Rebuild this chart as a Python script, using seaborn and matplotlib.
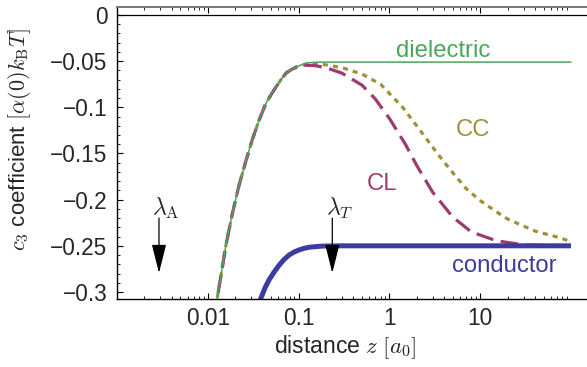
import numpy as np
import matplotlib
matplotlib.use("Agg")
import matplotlib.pyplot as plt
import seaborn as sns
from matplotlib.ticker import LogLocator, NullFormatter, MultipleLocator

# rising part shared by dielectric, CC and CL
rise_z = [0.0118, 0.0127, 0.0158, 0.0184, 0.022, 0.0263, 0.0309, 0.0367, 0.0437, 0.05,
          0.0563, 0.0645, 0.0727, 0.083, 0.095]
rise_c = [-0.328, -0.307, -0.25, -0.2175, -0.185, -0.158, -0.135, -0.114, -0.0955, -0.086,
          -0.078, -0.0695, -0.063, -0.0592, -0.0563]

diel_z = rise_z + [0.108, 0.121, 0.145, 0.17, 0.25, 100]
diel_c = rise_c + [-0.0538, -0.052, -0.0513, -0.051, -0.051, -0.051]

cc_z = rise_z + [0.12, 0.15, 0.2, 0.3, 0.5, 0.8, 1.4, 2.3, 3.5, 5, 7, 10, 14, 20, 40, 80, 100]
cc_c = rise_c + [-0.0535, -0.0528, -0.054, -0.057, -0.064, -0.075, -0.1, -0.128, -0.152,
                 -0.171, -0.188, -0.201, -0.211, -0.221, -0.234, -0.242, -0.246]

cl_z = rise_z + [0.12, 0.15, 0.2, 0.3, 0.5, 0.7, 1.0, 1.5, 2.0, 3.0, 5.0, 8, 15, 30, 100]
cl_c = rise_c + [-0.0545, -0.0548, -0.057, -0.063, -0.076, -0.091, -0.112, -0.140, -0.163,
                 -0.192, -0.219, -0.235, -0.2445, -0.249, -0.25]

cond_z = [0.036, 0.0385, 0.0425, 0.0472, 0.0537, 0.061, 0.0692, 0.0785, 0.089, 0.101,
          0.115, 0.131, 0.182, 0.3, 100]
cond_c = [-0.315, -0.3066, -0.296, -0.287, -0.2785, -0.271, -0.2648, -0.260, -0.2568, -0.2545,
          -0.2527, -0.2515, -0.2503, -0.25, -0.25]

ytick_vals = [0, -0.05, -0.1, -0.15, -0.2, -0.25, -0.3]
ytick_labels = ["0", "\u22120.05", "\u22120.1", "\u22120.15", "\u22120.2", "\u22120.25", "\u22120.3"]
xtick_vals = [0.01, 0.1, 1, 10]
xtick_labels = ["0.01", "0.1", "1", "10"]

sns.set_style("ticks")
plt.rcParams["font.family"] = ["Liberation Sans", "DejaVu Sans"]
plt.rcParams["mathtext.fontset"] = "cm"

c_diel = "#4aa55e"
c_cc = "#a08f3a"
c_cl = "#9e3a72"
c_cond = "#3c3ca0"

fig = plt.figure(figsize=(5.87, 3.67), dpi=100)
ax = fig.add_axes([0.1993, 0.1853, 0.8007, 0.7957])

ax.axhline(0, color="black", lw=0.9, zorder=1)

sns.lineplot(x=cc_z, y=cc_c, ax=ax, color=c_cc, lw=2.3, sort=False, estimator=None,
             linestyle=(0, (1.6, 1.6)))
sns.lineplot(x=cl_z, y=cl_c, ax=ax, color=c_cl, lw=2.3, sort=False, estimator=None,
             linestyle=(0, (5.5, 2.4)))
sns.lineplot(x=diel_z, y=diel_c, ax=ax, color=c_diel, lw=1.1, sort=False, estimator=None)
sns.lineplot(x=cond_z, y=cond_c, ax=ax, color=c_cond, lw=3.6, sort=False, estimator=None,
             solid_capstyle="butt")

ax.set_xscale("log")
ax.set_xlim(0.001, 150)
ax.set_ylim(-0.3076, 0.0087)

ax.set_xticks(xtick_vals)
ax.set_xticklabels(xtick_labels)
ax.xaxis.set_minor_locator(LogLocator(base=10, subs=np.arange(2, 10)))
ax.xaxis.set_minor_formatter(NullFormatter())
ax.set_yticks(ytick_vals)
ax.set_yticklabels(ytick_labels)
ax.yaxis.set_minor_locator(MultipleLocator(0.01))

ax.tick_params(axis="both", which="both", direction="in", labelsize=16.3, color="black")
ax.tick_params(axis="x", which="both", top=True, bottom=True, pad=6)
ax.tick_params(axis="y", which="both", left=True, right=False, pad=7)
ax.tick_params(which="major", length=4, width=0.8)
ax.tick_params(which="minor", length=2.2, width=0.6)

for s in ["left", "bottom"]:
    ax.spines[s].set_color("black")
    ax.spines[s].set_linewidth(1.0)
ax.spines["top"].set_color("#777777")
ax.spines["top"].set_linewidth(1.4)
ax.spines["right"].set_visible(False)

ax.set_xlabel(r"distance $z\ [a_0]$", fontsize=16.5)
ax.xaxis.set_label_coords(0.485, -0.118)
ax.set_ylabel(r"$c_3$ coefficient $[\alpha(0)k_{\rm B}T]$", fontsize=16)
ax.yaxis.set_label_coords(-0.178, 0.545)

ax.text(3.86, -0.0455, "dielectric", color=c_diel, fontsize=17.2, ha="center", va="baseline")
ax.text(8.4, -0.131, "CC", color=c_cc, fontsize=17.2, ha="center", va="baseline")
ax.text(0.837, -0.1896, "CL", color=c_cl, fontsize=17.2, ha="center", va="baseline")
ax.text(18.6, -0.2785, "conductor", color=c_cond, fontsize=17.2, ha="center", va="baseline")

arrow_props = dict(arrowstyle="-|>,head_length=1.8,head_width=0.45", color="black",
                   lw=0.9, mutation_scale=10, shrinkA=0, shrinkB=0)
for xa, lab, xl in [(0.0029, r"$\lambda_{\rm A}$", 0.00242), (0.235, r"$\lambda_T$", 0.201)]:
    ax.annotate("", xy=(xa, -0.2795), xytext=(xa, -0.22), arrowprops=arrow_props)
    ax.text(xl, -0.2165, lab, fontsize=17, ha="left", va="baseline")

fig.savefig("out.png", dpi=100)
